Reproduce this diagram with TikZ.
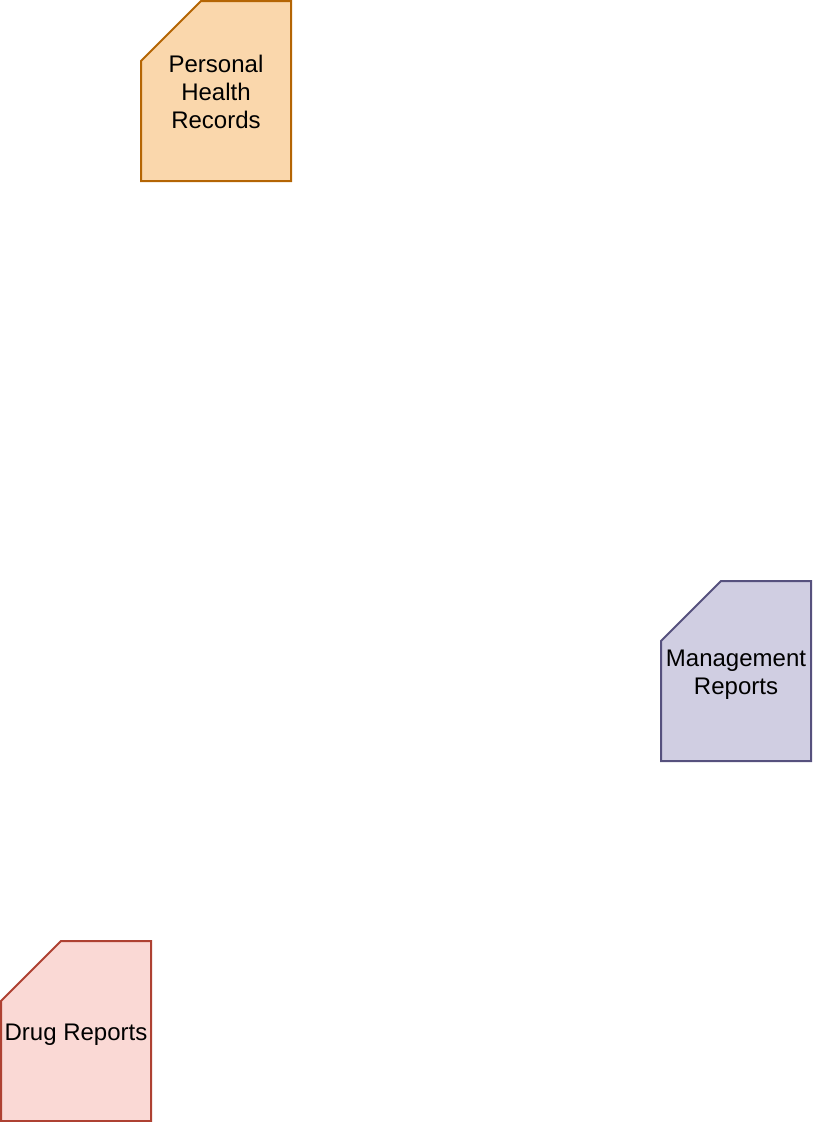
\documentclass[tikz,border=0pt]{standalone}
\usepackage{fontspec}
\setmainfont{Liberation Sans}
\usepackage{xcolor}

\definecolor{phrfill}{HTML}{FAD7AC}
\definecolor{phrline}{HTML}{B46504}
\definecolor{mgmtfill}{HTML}{D0CEE2}
\definecolor{mgmtline}{HTML}{56517E}
\definecolor{drugfill}{HTML}{FAD9D5}
\definecolor{drugline}{HTML}{AE4132}

\begin{document}
\begin{tikzpicture}[
  x=1pt, y=-1pt,
  font=\fontsize{24}{28}\selectfont,
  card/.style={
    minimum width=150pt,
    minimum height=180pt,
    inner sep=0pt,
    outer sep=0pt
  },
  cardline/.style={
    line width=2pt
  },
  cardtext/.style={
    align=center,
    inner sep=0pt,
    yshift=-3.5pt
  }
]
\useasboundingbox (0,0) rectangle (812,1122);

% -------------------------------------------------------------------
% Personal health records
% -------------------------------------------------------------------
\node[card] (phr) at (216,91) {};
\filldraw[cardline, draw=phrline, fill=phrfill]
  ([yshift=-60pt]phr.north west) -- ([xshift=60pt]phr.north west)
  -- (phr.north east) -- (phr.south east) -- (phr.south west) -- cycle;
\node[cardtext, yshift=3pt] (phrtext) at (phr.center)
{Personal\\Health\\Records};

% -------------------------------------------------------------------
% Management reports
% -------------------------------------------------------------------
\node[card] (mgmt) at (736,671) {};
\filldraw[cardline, draw=mgmtline, fill=mgmtfill]
  ([yshift=-60pt]mgmt.north west) -- ([xshift=60pt]mgmt.north west)
  -- (mgmt.north east) -- (mgmt.south east) -- (mgmt.south west) -- cycle;
\node[cardtext] (mgmttext) at (mgmt.center)
{Management\\Reports};

% -------------------------------------------------------------------
% Drug reports
% -------------------------------------------------------------------
\node[card] (drug) at (76,1031) {};
\filldraw[cardline, draw=drugline, fill=drugfill]
  ([yshift=-60pt]drug.north west) -- ([xshift=60pt]drug.north west)
  -- (drug.north east) -- (drug.south east) -- (drug.south west) -- cycle;
\node[cardtext] (drugtext) at (drug.center)
{Drug Reports};

\end{tikzpicture}
\end{document}
